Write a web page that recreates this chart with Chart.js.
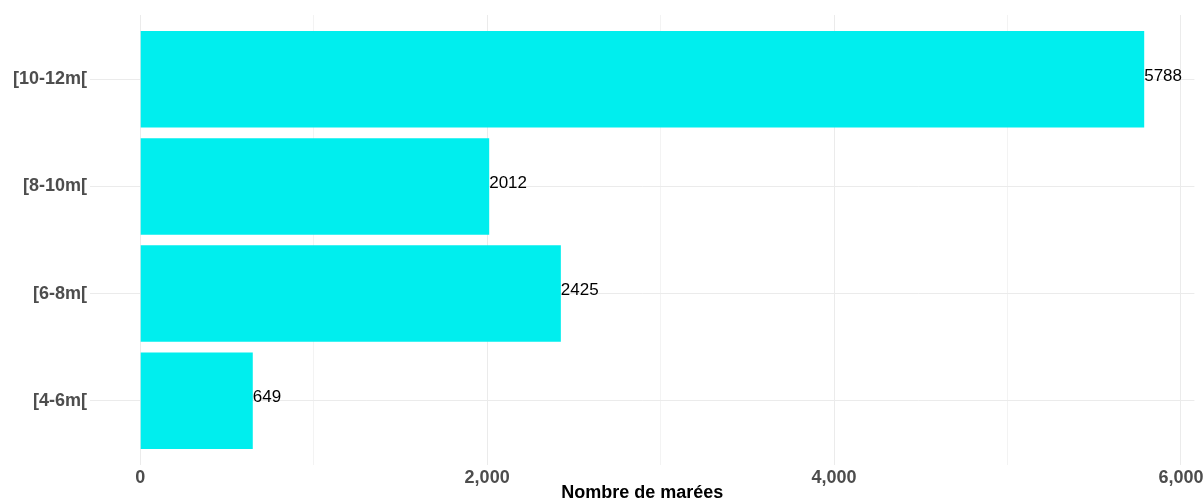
<!DOCTYPE html>
<html>
<head>
<meta charset="utf-8">
<script src="https://cdn.jsdelivr.net/npm/chart.js@4/dist/chart.umd.min.js"></script>
<style>
  html, body { margin: 0; padding: 0; background: #ffffff; }
  #wrap { width: 1203px; height: 502px; }
</style>
</head>
<body>
<div id="wrap"><canvas id="chart" width="1203" height="502"></canvas></div>
<script>
// Boat length classes, listed top to bottom
const categories = ['[10-12m[', '[8-10m[', '[6-8m[', '[4-6m['];
// Number of tides per class
const tideCounts = [5788, 2012, 2425, 649];
// Grid positions along the count axis (labelled every 2,000)
const countTicks = [0, 1000, 2000, 3000, 4000, 5000, 6000];
const labelledTicks = [0, 2000, 4000, 6000];

const FONT = "'Liberation Sans', Arial, Helvetica, sans-serif";
const BAR_COLOR = '#00EEEE';

// Continuous axis padded by 5% of the data range on each side
const maxCount = Math.max(...tideCounts);
const xMin = -0.05 * maxCount;
const xMax = maxCount * 1.05;
// Discrete axis padded by 0.6 of a band on each side
const yMin = -0.6;
const yMax = categories.length - 0.4;

const points = tideCounts.map((v, i) => ({ x: v, y: i }));

// Writes each count just past the end of its bar
const valueLabels = {
  id: 'valueLabels',
  afterDatasetsDraw(chart) {
    const ctx = chart.ctx;
    const meta = chart.getDatasetMeta(0);
    ctx.save();
    ctx.font = '17px ' + FONT;
    ctx.fillStyle = '#000000';
    ctx.textAlign = 'left';
    ctx.textBaseline = 'alphabetic';
    meta.data.forEach((bar, i) => {
      ctx.fillText(String(tideCounts[i]), bar.x, bar.y + 1.5);
    });
    ctx.restore();
  }
};

new Chart(document.getElementById('chart'), {
  type: 'bar',
  data: {
    datasets: [{
      data: points,
      backgroundColor: BAR_COLOR,
      borderWidth: 0,
      categoryPercentage: 1,
      barPercentage: 0.9
    }]
  },
  options: {
    indexAxis: 'y',
    responsive: false,
    animation: false,
    devicePixelRatio: 1,
    layout: { padding: { top: 15, right: 8.6, left: 0, bottom: 0 } },
    plugins: {
      legend: { display: false },
      tooltip: { enabled: false }
    },
    scales: {
      x: {
        type: 'linear',
        position: 'bottom',
        min: xMin,
        max: xMax,
        offset: false,
        afterBuildTicks(scale) {
          scale.ticks = countTicks.map(v => ({ value: v }));
          scale.min = xMin;
          scale.max = xMax;
        },
        afterFit(scale) {
          scale.height = 37;
          scale.paddingLeft = 0;
          scale.paddingRight = 0;
        },
        border: { display: false },
        grid: {
          offset: false,
          drawTicks: false,
          lineWidth: 1,
          color: (c) => (c.tick && labelledTicks.includes(c.tick.value)) ? '#ebebeb' : '#f3f3f3'
        },
        ticks: {
          padding: 2,
          maxRotation: 0,
          autoSkip: false,
          color: '#4d4d4d',
          font: { family: FONT, size: 18, weight: 'bold' },
          callback: (v) => labelledTicks.includes(v) ? v.toLocaleString('en-US') : ''
        },
        title: {
          display: true,
          text: 'Nombre de marées',
          color: '#000000',
          padding: 0,
          font: { family: FONT, size: 18, weight: 'bold', lineHeight: 1 }
        }
      },
      y: {
        type: 'linear',
        reverse: true,
        min: yMin,
        max: yMax,
        offset: false,
        afterBuildTicks(scale) {
          scale.ticks = categories.map((_, i) => ({ value: i }));
          scale.min = yMin;
          scale.max = yMax;
        },
        afterFit(scale) {
          scale.width = 90;
          scale.paddingTop = 0;
          scale.paddingBottom = 0;
        },
        border: { display: false },
        grid: {
          offset: false,
          drawTicks: false,
          lineWidth: 1,
          color: '#ebebeb'
        },
        ticks: {
          padding: 3,
          autoSkip: false,
          color: '#4d4d4d',
          font: { family: FONT, size: 18, weight: 'bold' },
          callback: (v) => categories[v] ?? ''
        }
      }
    }
  },
  plugins: [valueLabels]
});
</script>
</body>
</html>
